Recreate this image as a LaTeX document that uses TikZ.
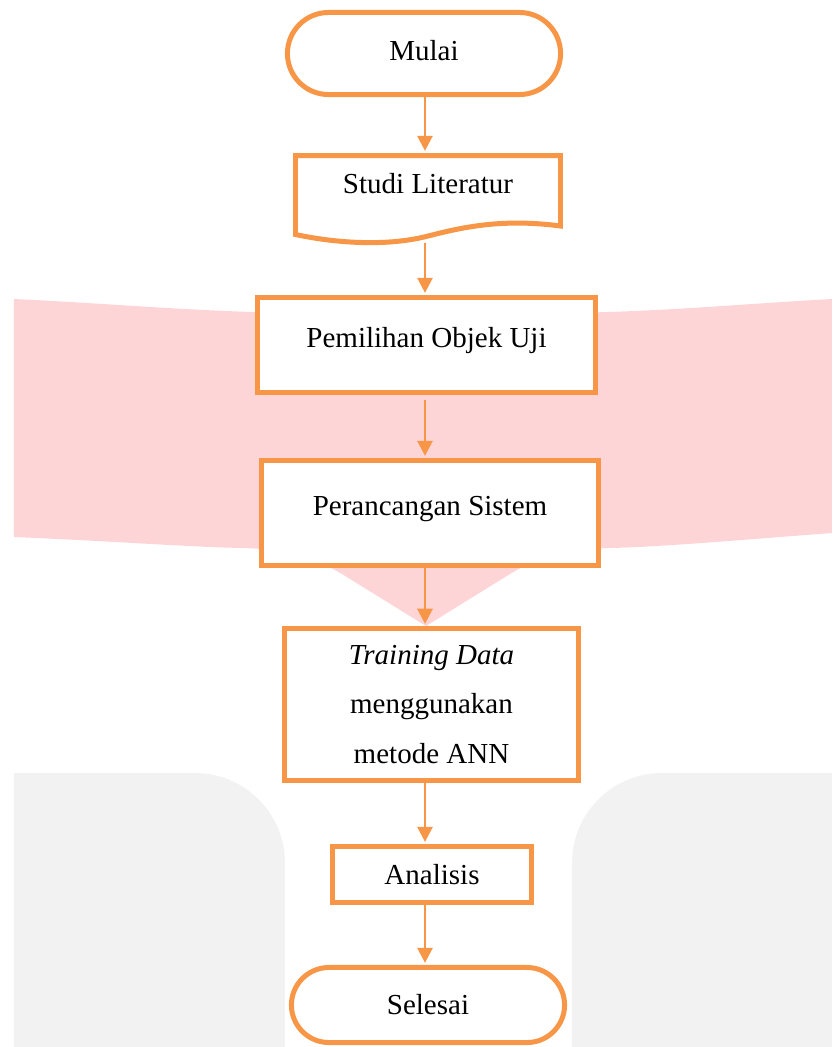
\documentclass[tikz,border=0pt]{standalone}
\usepackage{fontspec}
\setmainfont{Liberation Serif}
\usetikzlibrary{arrows.meta,shapes.misc}
\definecolor{flow}{HTML}{F79646}
\definecolor{wmpink}{HTML}{FDD5D7}
\definecolor{wmgray}{HTML}{F2F2F2}

\begin{document}
\begin{tikzpicture}[
  x=0.01cm, y=-0.01cm,
  every node/.style={font=\fontsize{8.25}{14.2}\selectfont},
  term/.style={draw=flow, line width=1.42pt, rounded rectangle, fill=white, minimum width=2.73cm, inner sep=0pt},
  proc/.style={draw=flow, line width=1.42pt, rectangle, fill=white, inner sep=0pt, align=center},
  arr/.style={draw=flow, line width=0.75pt, shorten >=0.6pt, -{Triangle[width=4.3pt,length=4.3pt]}}
]
\useasboundingbox (0,0) rectangle (832,1047);

\fill[wmpink] (14,299) .. controls (120,304) and (200,312) .. (300,313) -- (560,313)
  .. controls (660,312) and (740,304) .. (832,299) -- (832,533)
  .. controls (740,540) and (660,547) .. (610,548) .. controls (570,549) and (540,556) .. (510,574)
  -- (426,626) -- (342,574) .. controls (312,556) and (282,549) .. (242,548)
  .. controls (190,547) and (110,541) .. (14,537) -- cycle;
\fill[wmgray] (14,1047) -- (14,773) [rounded corners=0.9cm] -- (285,773) [sharp corners] -- (285,1047) -- cycle;
\fill[wmgray] (832,1047) -- (832,773) [rounded corners=0.9cm] -- (572,773) [sharp corners] -- (572,1047) -- cycle;

\draw[draw=flow, line width=1.42pt, fill=white] (295.5,234.5) -- (295.5,155.5) -- (560.5,155.5) -- (560.5,226)
  .. controls (500,218) and (460,228) .. (428,236) .. controls (390,246) and (340,244) .. (295.5,234.5) -- cycle;

\coordinate (spine) at (425,0);
\node[term, minimum height=0.82cm, text height=6pt, text depth=2pt] (mulai) at (424,53.5) {Mulai};
\node[proc, draw=none, fill=none, minimum width=2.65cm, minimum height=0.845cm, text height=6pt, text depth=8.5pt] (studi) at (428,197.75) {Studi Literatur};
\node[proc, minimum width=3.38cm, minimum height=0.95cm, text height=6pt, text depth=4.4pt] (objek) at (426.5,345) {Pemilihan Objek Uji};
\node[proc, minimum width=3.37cm, minimum height=1.05cm, text height=6pt, text depth=4.4pt] (sistem) at (430,513) {Perancangan Sistem};
\node[proc, minimum width=2.94cm, minimum height=1.52cm] (training) at (431.5,704.5) {\textit{Training Data}\\menggunakan\\metode ANN};
\node[proc, minimum width=1.99cm, minimum height=0.56cm] (analisis) at (432,874.5) {Analisis};
\node[term, minimum height=0.75cm] (selesai) at (428,1005) {Selesai};

\draw[arr] (mulai.south -| spine) -- (studi.north -| spine);
\draw[arr] (studi.south -| spine) -- (objek.north -| spine);
\draw[arr] (objek.south -| spine) ++(0,5) -- (sistem.north -| spine);
\draw[arr] (sistem.south -| spine) -- (training.north -| spine);
\draw[arr] (training.south -| spine) -- (analisis.north -| spine);
\draw[arr] (analisis.south -| spine) -- (selesai.north -| spine);
\end{tikzpicture}
\end{document}
